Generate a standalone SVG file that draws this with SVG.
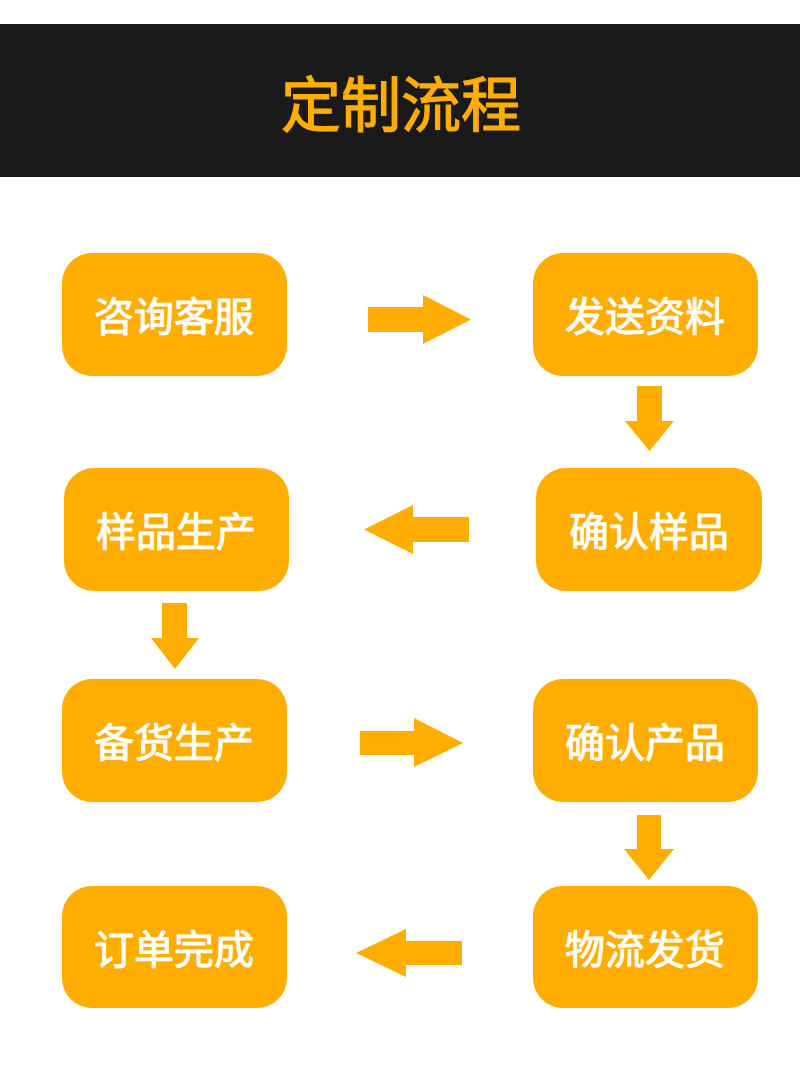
<svg xmlns="http://www.w3.org/2000/svg" width="800" height="1066" viewBox="0 0 800 1066">
<style>
.box{fill:#FFAE00}
.lbl{fill:#ffffff;stroke:#ffffff;stroke-width:0.9px;font-family:"Noto Sans CJK SC","Noto Sans",sans-serif;font-size:40px;font-weight:normal;text-anchor:middle;dominant-baseline:central}
.arr{fill:#FFAE00}
.title{fill:#FFAE00;stroke:#FFAE00;stroke-width:1.2px;font-family:"Noto Sans CJK SC","Noto Sans",sans-serif;font-size:60px;font-weight:normal;text-anchor:middle;dominant-baseline:central}
</style>
<rect x="0" y="0" width="800" height="1066" fill="#ffffff"/>
<g id="header">
<rect x="0" y="24" width="800" height="153" fill="#1a1a1a"/>
<text class="title" x="401" y="100">定制流程</text>
</g>
<g id="n1"><rect class="box" x="62" y="253" width="225" height="123" rx="30"/><text class="lbl" x="174" y="314">咨询客服</text></g>
<g id="n2"><rect class="box" x="533" y="253" width="225" height="123" rx="30"/><text class="lbl" x="645" y="314">发送资料</text></g>
<g id="n3"><rect class="box" x="536" y="468" width="226" height="123" rx="30"/><text class="lbl" x="649" y="529">确认样品</text></g>
<g id="n4"><rect class="box" x="64" y="468" width="225" height="123" rx="30"/><text class="lbl" x="176" y="529">样品生产</text></g>
<g id="n5"><rect class="box" x="62" y="679" width="225" height="123" rx="30"/><text class="lbl" x="174" y="740">备货生产</text></g>
<g id="n6"><rect class="box" x="533" y="679" width="225" height="123" rx="30"/><text class="lbl" x="645" y="740">确认产品</text></g>
<g id="n7"><rect class="box" x="533" y="886" width="225" height="122" rx="30"/><text class="lbl" x="645" y="947">物流发货</text></g>
<g id="n8"><rect class="box" x="62" y="886" width="225" height="122" rx="30"/><text class="lbl" x="174" y="947">订单完成</text></g>
<g id="connectors">
<polygon class="arr" points="368,307 423,307 423,295 471,319.5 423,344 423,332 368,332"/>
<polygon class="arr" points="637,386 662,386 662,421 674,421 649.5,451 625,421 637,421"/>
<polygon class="arr" points="469,517 413,517 413,505 364,529.5 413,554 413,542 469,542"/>
<polygon class="arr" points="162,603 187,603 187,638 199,638 175,669 151,638 162,638"/>
<polygon class="arr" points="360,731 414,731 414,718 463,743 414,767 414,755 360,755"/>
<polygon class="arr" points="637,815 661,815 661,849 674,849 649,880 624,849 637,849"/>
<polygon class="arr" points="462,941 406,941 406,929 356,953 406,977 406,965 462,965"/>
</g>
</svg>
